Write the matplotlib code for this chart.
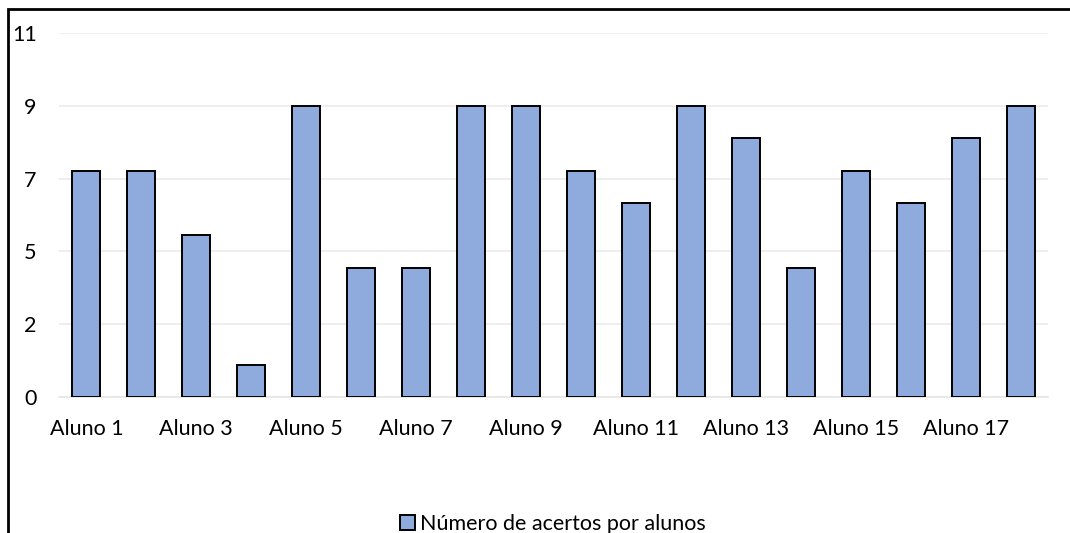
import matplotlib.pyplot as plt
from matplotlib.patches import Rectangle

plt.rcParams["font.family"] = ["Lato", "DejaVu Sans"]

alunos = [f"Aluno {i}" for i in range(1, 19)]
acertos = [7, 7, 5, 1, 9, 4, 4, 9, 9, 7, 6, 9, 8, 4, 7, 6, 8, 9]
y_ticks = [0, 2.25, 4.5, 6.75, 9, 11.25]
y_labels = ["0", "2", "5", "7", "9", "11"]
serie = "Número de acertos por alunos"

W, H = 1070, 533
fig = plt.figure(figsize=(W / 100, H / 100), dpi=100)
ax = fig.add_axes([59 / W, 1 - 397 / H, (1048 - 59) / W, (397 - 33) / H])

x = range(len(alunos))
bars = ax.bar(x, acertos, width=0.51, color="#8FAADC", edgecolor="black",
              linewidth=1.4, label=serie, zorder=3)

ax.set_xlim(-0.5, len(alunos) - 0.5)
ax.set_ylim(0, 11.25)
ax.set_yticks(y_ticks, labels=y_labels)
ax.set_xticks(list(x)[::2], labels=alunos[::2])
ax.tick_params(axis="both", length=0, labelsize=15.5, colors="black")
ax.tick_params(axis="y", pad=16)
ax.tick_params(axis="x", pad=16)

ax.grid(axis="y", color="#EBEBEB", linewidth=1.2, zorder=0)
for side in ("top", "right", "left"):
    ax.spines[side].set_visible(False)
ax.spines["bottom"].set_color("#E6E6E6")
ax.spines["bottom"].set_linewidth(1.2)

fig.legend(handles=[bars], labels=[serie], loc="center",
           bbox_to_anchor=(553 / W, 1 - 524 / H), frameon=False,
           fontsize=15.5, handlelength=0.7, handleheight=0.7,
           handletextpad=0.25)

# outer chart frame, clipped at the right and bottom edges
fig.patches.append(Rectangle((8 / W, -0.05), 1.1, 1 - 9 / H + 0.05,
                             transform=fig.transFigure, fill=False,
                             edgecolor="black", linewidth=2))

fig.savefig("out.png", dpi=100)
